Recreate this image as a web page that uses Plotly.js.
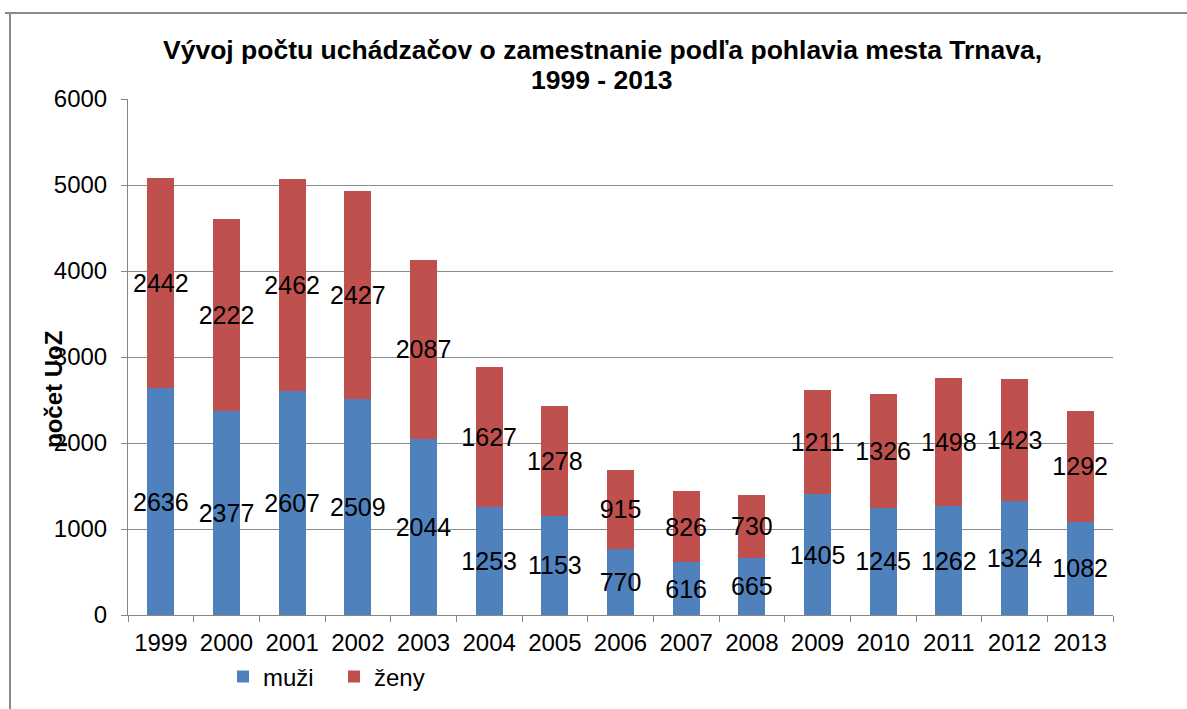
<!DOCTYPE html>
<html>
<head>
<meta charset="utf-8">
<script src="https://cdn.plot.ly/plotly-3.0.1.min.js"></script>
<style>
html,body{margin:0;padding:0;background:#fff;}
#chart{width:1187px;height:709px;}
</style>
</head>
<body>
<div id="chart"></div>
<script>
const years = ['1999','2000','2001','2002','2003','2004','2005','2006','2007','2008','2009','2010','2011','2012','2013'];
const muzi = [2636,2377,2607,2509,2044,1253,1153,770,616,665,1405,1245,1262,1324,1082];
const zeny = [2442,2222,2462,2427,2087,1627,1278,915,826,730,1211,1326,1498,1423,1292];
const titleLines = ['Vývoj počtu uchádzačov o zamestnanie podľa pohlavia mesta Trnava,', '1999 - 2013'];

const FONT = 'Liberation Sans, Arial, sans-serif';

const traces = [
  {type:'bar', name:'muži', x:years, y:muzi, marker:{color:'#4F81BD'},
   text:muzi.map(String), textposition:'inside', insidetextanchor:'middle', textangle:0, constraintext:'none',
   insidetextfont:{family:FONT, size:25, color:'#000'}, hoverinfo:'none'},
  {type:'bar', name:'ženy', x:years, y:zeny, marker:{color:'#C0504D'},
   text:zeny.map(String), textposition:'inside', insidetextanchor:'middle', textangle:0, constraintext:'none',
   insidetextfont:{family:FONT, size:25, color:'#000'}, hoverinfo:'none'}
];

const px2x = p => (p-128)/985;
const px2y = p => (615-p)/516;

const layout = {
  width:1187, height:709,
  paper_bgcolor:'#fff', plot_bgcolor:'#fff',
  margin:{l:128, r:74, t:99, b:94, autoexpand:false},
  barmode:'stack', bargap:0.59,
  font:{family:FONT, size:24, color:'#000'},
  xaxis:{type:'category', showline:true, linecolor:'#868686', linewidth:1, ticks:'outside', tickson:'boundaries',
         ticklen:6, tickcolor:'#868686', tickfont:{family:FONT, size:24, color:'#000'}, ticklabelstandoff:6,
         showgrid:false, fixedrange:true, automargin:false},
  yaxis:{range:[0,6000], dtick:1000, showline:true, linecolor:'#868686', linewidth:1, ticks:'outside', ticklen:6,
         tickcolor:'#868686', gridcolor:'#8c8c8c', gridwidth:1, tickfont:{family:FONT, size:24, color:'#000'},
         ticklabelstandoff:9, zeroline:false, fixedrange:true, automargin:false},
  showlegend:true,
  legend:{orientation:'h', traceorder:'normal', x:px2x(223), xanchor:'left', y:px2y(677), yanchor:'middle',
          font:{family:FONT, size:24, color:'#000'}, entrywidth:66, entrywidthmode:'pixels',
          bgcolor:'rgba(0,0,0,0)'},
  annotations:[
    {text:'<b>'+titleLines[0]+'</b>', xref:'paper', yref:'paper', x:px2x(602), y:px2y(50), showarrow:false,
     font:{family:FONT, size:26.5, color:'#000'}, xanchor:'center', yanchor:'middle'},
    {text:'<b>'+titleLines[1]+'</b>', xref:'paper', yref:'paper', x:px2x(601), y:px2y(80), showarrow:false,
     font:{family:FONT, size:26.5, color:'#000'}, xanchor:'center', yanchor:'middle'},
    {text:'<b>počet UoZ</b>', xref:'paper', yref:'paper', x:px2x(53), y:px2y(390), textangle:-90,
     showarrow:false, font:{family:FONT, size:24, color:'#000'}, xanchor:'center', yanchor:'middle'}
  ],
  shapes:[
    {type:'line', xref:'paper', yref:'paper', x0:px2x(5), x1:px2x(1190), y0:px2y(13), y1:px2y(13),
     line:{color:'#8a8a8a', width:2}},
    {type:'line', xref:'paper', yref:'paper', x0:px2x(10), x1:px2x(10), y0:px2y(13), y1:px2y(720),
     line:{color:'#8a8a8a', width:2}}
  ]
};

Plotly.newPlot('chart', traces, layout, {displayModeBar:false, staticPlot:true});
</script>
</body>
</html>
